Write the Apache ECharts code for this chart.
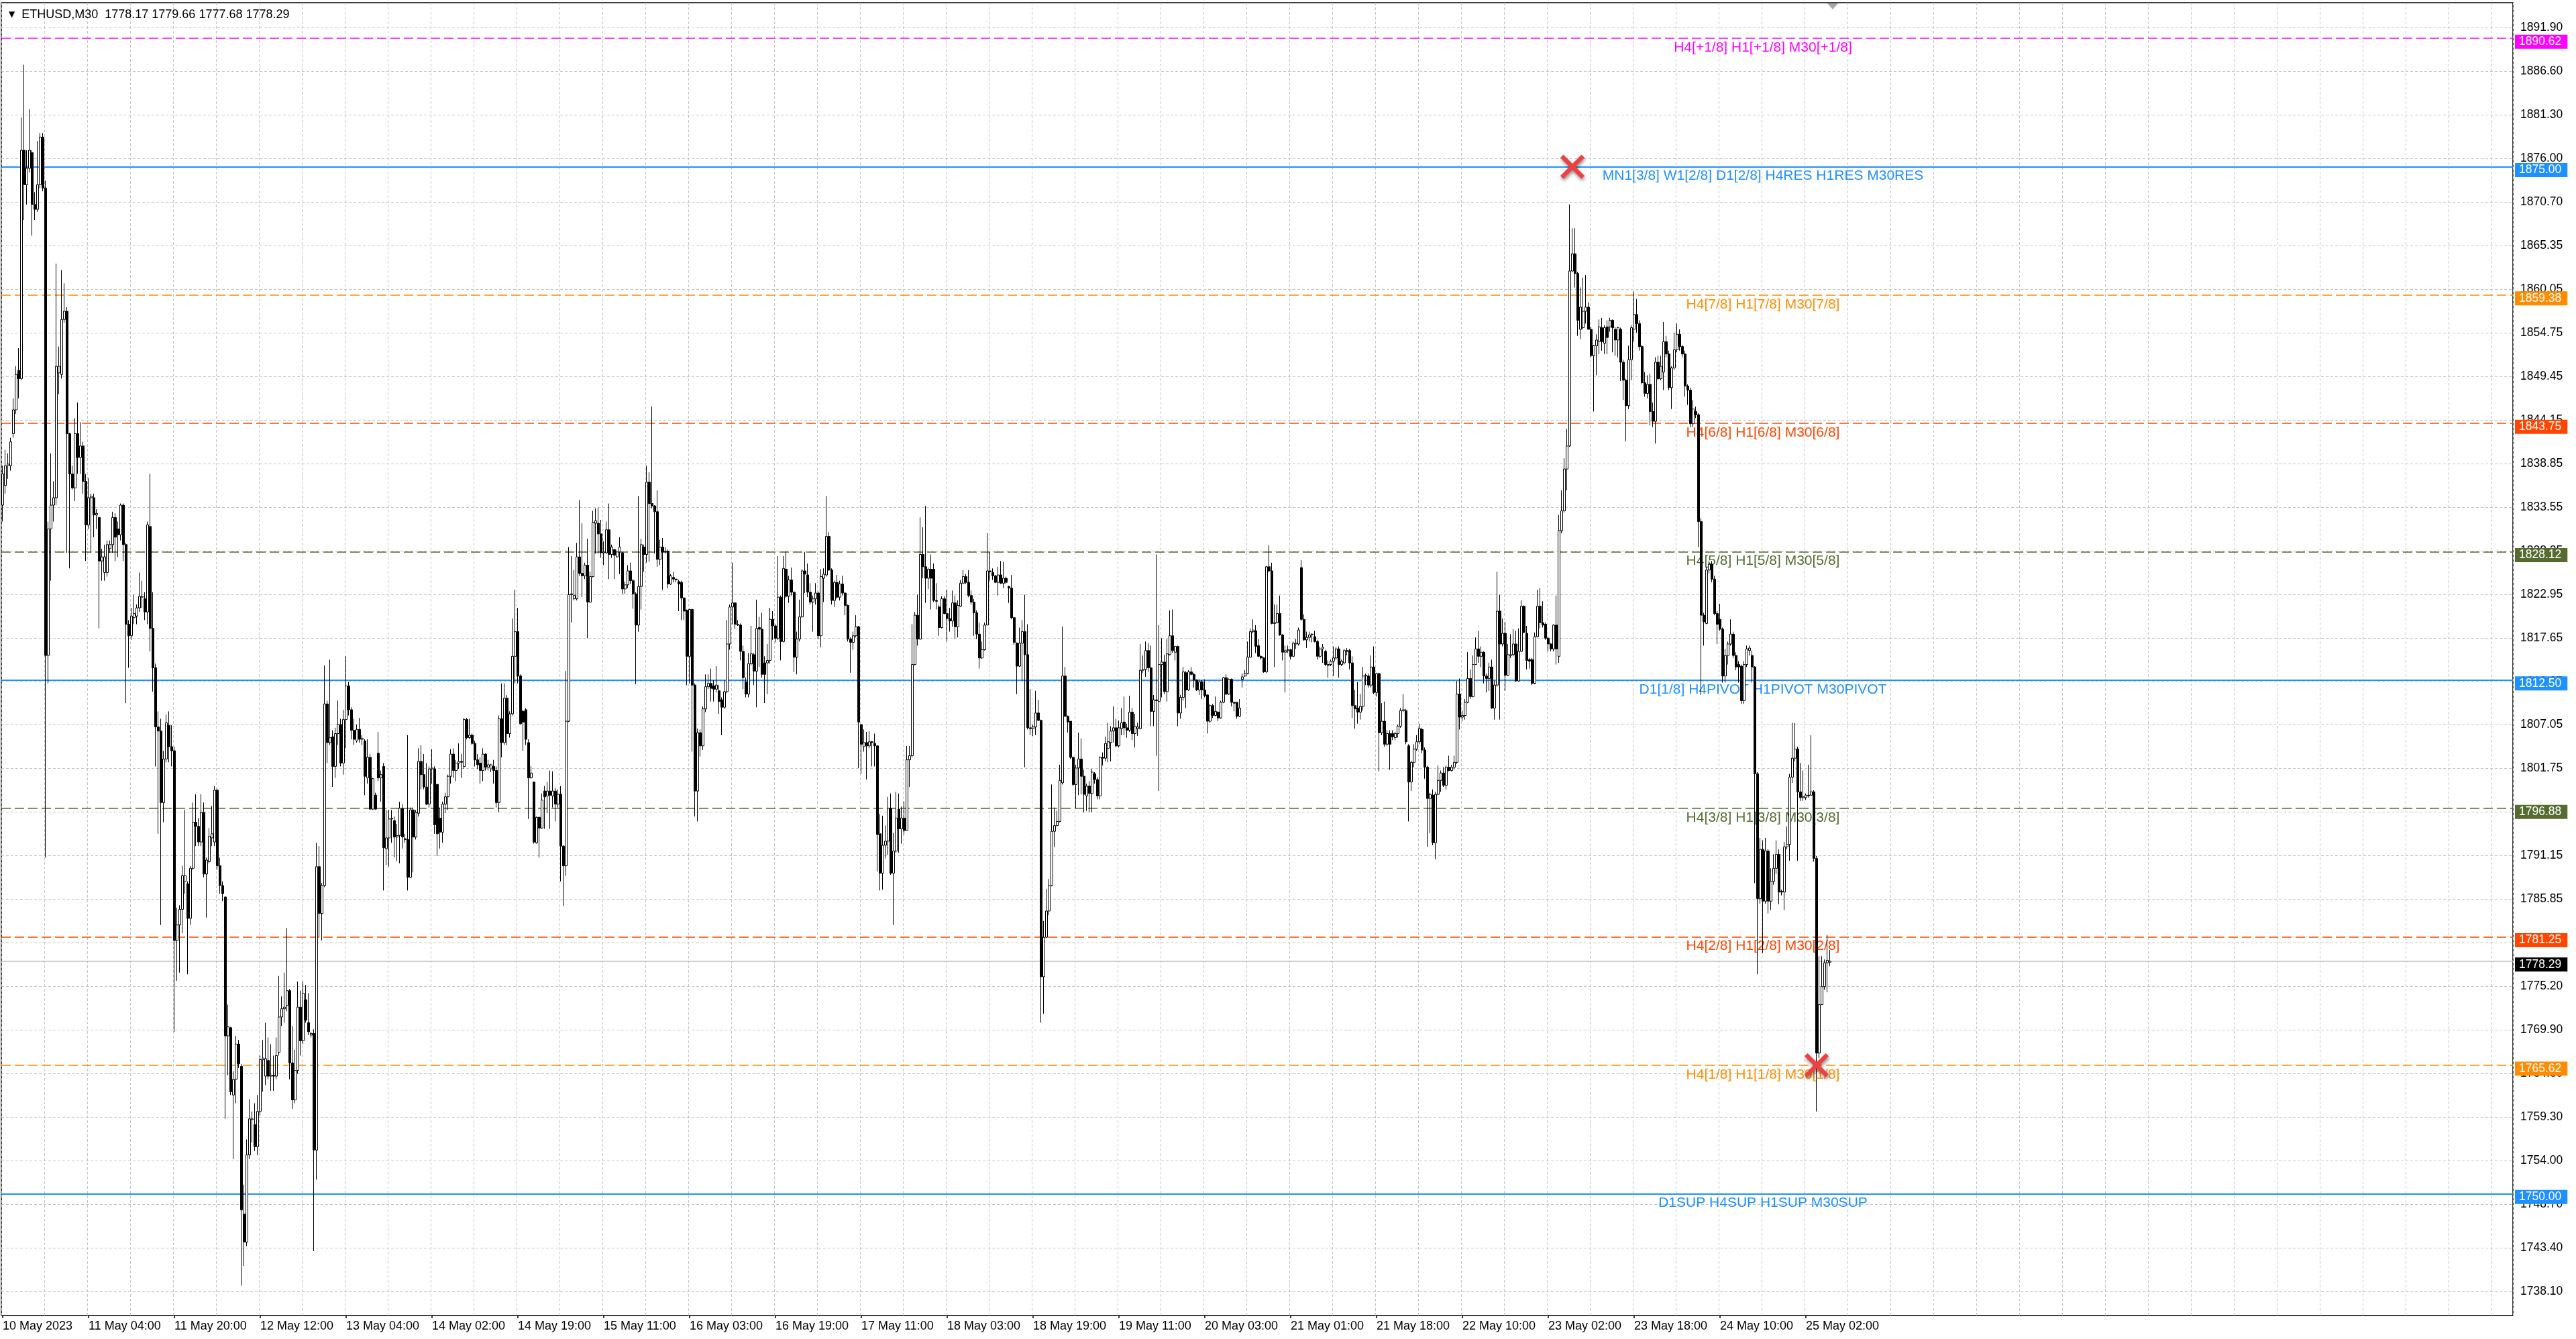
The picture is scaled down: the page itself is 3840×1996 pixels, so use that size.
<!DOCTYPE html>
<html>
<head>
<meta charset="utf-8">
<title>ETHUSD,M30</title>
<script src="https://cdn.jsdelivr.net/npm/echarts@6/dist/echarts.min.js"></script>
<style>
html,body{margin:0;padding:0;background:#fff;}
#chart{width:3840px;height:1996px;}
</style>
</head>
<body>
<div id="chart"></div>
<script>
const symbolName = 'ETHUSD,M30';

// x-axis time labels, one every 32 bars
const tickLabels = ['10 May 2023','11 May 04:00','11 May 20:00','12 May 12:00','13 May 04:00','14 May 02:00','14 May 19:00','15 May 11:00','16 May 03:00','16 May 19:00','17 May 11:00','18 May 03:00','18 May 19:00','19 May 11:00','20 May 03:00','21 May 01:00','21 May 18:00','22 May 10:00','23 May 02:00','23 May 18:00','24 May 10:00','25 May 02:00'];

// price-scale tick labels (right axis)
const yTicks = [1738.10,1743.40,1748.70,1754.00,1759.30,1764.60,1769.90,1775.20,1780.55,1785.85,1791.15,1796.45,1801.75,1807.05,1812.35,1817.65,1822.95,1828.25,1833.55,1838.85,1844.15,1849.45,1854.75,1860.05,1865.35,1870.70,1876.00,1881.30,1886.60,1891.90];

// Murrey-style level lines
const levelPrices = [1890.62,1875.00,1859.38,1843.75,1828.12,1812.50,1796.88,1781.25,1765.62,1750.00];
const levelNames = ['H4[+1/8] H1[+1/8] M30[+1/8]','MN1[3/8] W1[2/8] D1[2/8] H4RES H1RES M30RES','H4[7/8] H1[7/8] M30[7/8]','H4[6/8] H1[6/8] M30[6/8]','H4[5/8] H1[5/8] M30[5/8]','D1[1/8] H4PIVOT H1PIVOT M30PIVOT','H4[3/8] H1[3/8] M30[3/8]','H4[2/8] H1[2/8] M30[2/8]','H4[1/8] H1[1/8] M30[1/8]','D1SUP H4SUP H1SUP M30SUP'];
const levelColors = ['#FF00FF','#1E90FF','#FF8C00','#FF4500','#556B2F','#1E90FF','#556B2F','#FF4500','#FF8C00','#1E90FF'];
const levelSolid = [false,true,false,false,false,true,false,false,false,true];

// red cross markers [bar index, price]
const crossMarks = [[585,1875.0],[676,1765.62]];

// M30 candles: [open, close, low, high]
const ohlc = [
[1833.8,1837.6,1831.8,1838.6],[1836.2,1838.6,1835.2,1840.5],[1838.6,1838.8,1837.0,1840.1],[1838.6,1841.5,1838.0,1842.0],[1842.5,1845.4,1842.0,1846.8],
[1845.4,1849.7,1844.9,1850.7],[1850.2,1849.2,1846.8,1852.9],[1849.2,1877.0,1849.0,1881.0],[1877.0,1872.8,1868.5,1887.4],[1872.8,1874.8,1870.4,1877.0],
[1874.8,1877.0,1874.3,1882.0],[1876.7,1870.4,1866.6,1877.0],[1870.4,1869.8,1868.5,1871.9],[1869.8,1872.8,1869.5,1878.1],[1872.8,1878.6,1872.4,1879.1],
[1878.6,1872.4,1872.0,1879.1],[1872.4,1815.5,1790.9,1873.3],[1815.5,1830.9,1812.1,1831.8],[1830.9,1833.8,1824.6,1840.1],[1833.8,1834.7,1831.8,1836.7],
[1834.7,1850.7,1833.8,1863.2],[1849.9,1850.7,1847.3,1853.1],[1849.7,1856.4,1849.2,1862.4],[1856.4,1857.4,1856.0,1860.8],[1857.4,1842.5,1828.0,1857.9],
[1842.5,1837.6,1826.1,1842.6],[1837.6,1835.9,1835.7,1838.6],[1835.9,1842.5,1834.3,1844.4],[1842.5,1839.6,1837.6,1846.3],[1839.6,1841.0,1837.6,1843.9],
[1841.0,1836.7,1835.2,1841.5],[1836.7,1831.4,1827.0,1837.6],[1831.4,1834.7,1830.9,1837.1],[1834.7,1834.9,1828.0,1835.2],[1834.7,1832.6,1829.9,1835.2],
[1832.6,1832.8,1830.9,1833.3],[1832.3,1827.0,1818.8,1832.4],[1827.0,1827.5,1824.6,1828.5],[1825.6,1827.5,1824.6,1829.0],[1825.6,1829.0,1825.1,1829.5],
[1828.5,1829.0,1828.0,1829.5],[1829.0,1832.3,1828.0,1833.0],[1832.3,1829.9,1827.0,1832.8],[1830.9,1830.2,1827.5,1831.8],[1830.2,1833.8,1829.5,1834.0],
[1833.8,1829.0,1827.0,1834.0],[1829.0,1819.3,1809.7,1829.2],[1819.3,1817.9,1814.0,1819.8],[1817.9,1820.3,1817.4,1821.3],[1820.1,1820.6,1819.3,1822.9],
[1820.3,1821.3,1819.3,1821.7],[1821.3,1822.7,1820.8,1825.6],[1822.6,1822.7,1821.3,1824.6],[1822.4,1820.8,1819.8,1823.2],[1820.8,1831.4,1819.3,1831.8],
[1831.2,1818.8,1816.0,1837.6],[1818.8,1814.0,1811.1,1823.2],[1814.0,1806.8,1802.0,1814.5],[1806.8,1806.3,1793.8,1808.7],[1806.3,1797.6,1782.7,1807.8],
[1797.6,1802.9,1795.2,1803.9],[1802.9,1807.3,1802.5,1808.3],[1807.0,1804.4,1802.5,1808.7],[1804.4,1803.9,1802.0,1807.0],[1803.9,1780.8,1769.7,1804.4],
[1780.8,1782.7,1775.9,1784.8],[1782.7,1784.6,1776.9,1785.1],[1784.6,1788.7,1781.7,1789.9],[1788.0,1788.7,1786.5,1796.7],[1787.7,1783.5,1776.7,1788.0],
[1783.5,1789.6,1782.7,1789.9],[1789.6,1795.2,1789.4,1797.6],[1795.2,1794.7,1792.3,1798.6],[1794.7,1792.8,1792.3,1795.7],[1792.8,1796.4,1792.3,1798.6],
[1796.4,1788.9,1788.5,1797.6],[1788.9,1790.6,1783.6,1790.9],[1790.4,1793.5,1790.2,1794.5],[1793.3,1793.8,1792.3,1797.2],[1792.8,1799.1,1792.3,1799.6],
[1799.1,1789.9,1789.4,1799.3],[1789.9,1787.5,1786.5,1790.9],[1787.5,1786.5,1785.6,1788.0],[1786.1,1769.2,1759.1,1786.2],[1769.2,1770.3,1764.4,1773.0],
[1770.2,1762.4,1762.0,1770.3],[1762.0,1763.9,1754.2,1764.9],[1763.9,1768.2,1761.0,1769.2],[1768.2,1765.8,1765.3,1768.7],[1765.5,1748.0,1738.8,1765.8],
[1747.5,1744.1,1741.2,1751.1],[1744.1,1754.7,1743.6,1756.6],[1754.7,1759.1,1754.2,1761.5],[1759.0,1759.1,1756.2,1760.0],[1758.4,1755.7,1755.2,1761.0],
[1755.7,1760.0,1754.7,1762.0],[1760.0,1766.3,1759.5,1766.8],[1766.3,1766.5,1762.4,1768.7],
[1764.3,1766.4,1763.2,1770.8],[1766.2,1764.3,1763.9,1769.0],[1764.3,1764.4,1762.5,1768.2],[1764.4,1764.3,1762.5,1766.8],[1764.3,1766.8,1763.9,1769.0],
[1767.2,1771.5,1766.8,1776.5],[1771.5,1772.5,1770.4,1774.0],[1772.5,1772.7,1770.8,1776.9],[1772.9,1774.7,1772.2,1782.3],[1774.7,1765.9,1763.9,1774.9],
[1765.9,1761.4,1760.3,1770.4],[1761.4,1765.0,1761.0,1767.5],[1765.0,1772.7,1764.6,1775.8],[1772.7,1768.6,1766.8,1774.7],[1768.6,1774.4,1768.2,1775.8],
[1773.6,1771.1,1770.8,1775.4],[1770.8,1769.7,1769.3,1774.4],[1769.3,1769.5,1769.0,1769.7],[1769.5,1755.3,1743.0,1770.0],[1755.3,1789.8,1751.7,1792.7],
[1789.8,1784.1,1781.2,1792.3],[1784.1,1787.5,1780.8,1787.8],[1787.5,1809.6,1787.3,1814.3],[1809.6,1804.9,1802.4,1810.0],[1804.9,1805.5,1804.6,1815.0],
[1805.6,1802.0,1799.5,1806.4],[1802.0,1806.0,1800.6,1806.7],[1806.0,1807.1,1804.6,1810.0],[1807.1,1802.4,1802.0,1807.8],[1802.4,1807.7,1801.0,1808.9],
[1807.7,1811.8,1804.2,1815.4],[1811.8,1808.9,1808.2,1812.3],[1808.9,1806.4,1805.3,1809.2],[1806.4,1805.3,1804.6,1807.8],[1805.1,1806.5,1804.9,1807.1],
[1806.5,1805.3,1804.9,1807.9],[1805.3,1805.4,1804.6,1805.8],[1805.1,1800.8,1798.5,1805.3],[1800.6,1803.1,1799.9,1805.3],[1803.1,1796.8,1796.7,1803.5],
[1796.8,1800.5,1796.7,1800.6],[1798.5,1796.8,1796.7,1798.8],[1803.6,1800.6,1800.2,1806.2],[1800.6,1801.0,1797.7,1801.5],[1802.0,1792.1,1786.9,1802.4],
[1792.0,1793.3,1790.0,1796.7],[1793.3,1795.6,1789.8,1796.7],[1795.6,1795.7,1792.7,1796.7],[1795.4,1793.4,1790.9,1795.9],[1793.4,1793.6,1790.5,1795.0],
[1793.6,1796.9,1790.2,1797.7],[1796.9,1793.4,1792.0,1797.4],[1793.2,1793.1,1792.7,1793.8],[1793.1,1788.5,1786.9,1805.8],[1788.5,1796.7,1788.4,1797.0],
[1796.7,1793.4,1789.1,1797.0],[1793.4,1796.4,1793.1,1796.7],[1796.3,1802.6,1795.9,1804.2],[1802.6,1801.0,1799.2,1804.6],[1801.0,1799.5,1799.2,1803.5],
[1799.5,1797.4,1797.3,1802.4],[1797.4,1801.7,1797.0,1802.0],[1801.7,1801.8,1799.9,1804.1],[1801.7,1794.9,1793.8,1802.0],[1799.8,1793.8,1791.1,1799.9],
[1795.7,1794.0,1792.0,1797.0],[1794.0,1797.4,1792.7,1797.7],[1797.4,1798.3,1796.3,1798.8],[1798.3,1800.8,1796.7,1801.0],[1800.8,1803.5,1799.9,1804.1],
[1803.5,1801.5,1800.6,1804.2],[1801.5,1802.4,1800.2,1802.8],[1802.4,1802.6,1801.7,1804.8],[1802.6,1802.5,1800.6,1803.5],[1802.0,1807.7,1801.7,1807.9],
[1807.7,1805.5,1805.3,1807.9],[1805.5,1805.8,1805.3,1807.8],[1805.8,1804.8,1804.6,1806.0],[1804.8,1802.8,1802.0,1805.1],[1802.8,1802.2,1801.7,1803.5],
[1802.4,1801.5,1799.9,1803.1],[1801.5,1803.5,1800.2,1804.2],[1803.5,1801.9,1801.5,1803.6],[1801.9,1802.2,1801.5,1802.8],[1801.7,1802.2,1801.3,1802.3],
[1802.0,1801.5,1799.9,1802.8],[1801.5,1797.6,1797.0,1802.0],[1797.6,1807.8,1796.4,1808.2],[1807.8,1804.9,1803.1,1812.1],[1804.9,1810.3,1804.6,1812.1],
[1810.3,1806.0,1804.6,1810.7],[1806.0,1808.4,1805.5,1808.7],[1808.4,1815.4,1808.2,1820.0],[1815.4,1818.4,1812.1,1823.5],[1818.4,1813.0,1812.1,1821.3],
[1813.0,1807.2,1807.1,1813.2],[1808.7,1807.4,1803.9,1808.9],[1808.9,1805.3,1804.6,1809.1],[1804.9,1800.6,1795.6,1805.3],
[1800.6,1801.2,1800.5,1802.0],[1800.1,1792.8,1792.6,1800.1],[1792.7,1795.8,1792.6,1795.9],[1795.8,1794.5,1790.9,1795.9],[1794.5,1797.9,1794.4,1798.7],
[1799.0,1798.3,1794.4,1799.6],[1798.4,1799.0,1796.3,1800.1],[1799.0,1798.5,1794.4,1801.5],[1798.4,1799.0,1797.0,1801.4],[1799.0,1797.4,1795.3,1799.4],
[1797.4,1798.6,1797.0,1799.2],[1798.6,1792.3,1788.0,1799.6],[1792.3,1789.9,1785.0,1792.4],[1789.9,1807.5,1788.7,1813.6],[1807.5,1822.9,1807.4,1828.7],
[1822.9,1823.0,1819.5,1827.6],[1822.4,1822.8,1822.2,1825.9],[1822.4,1827.5,1822.2,1829.2],[1827.5,1825.5,1825.2,1834.4],[1825.5,1825.2,1822.6,1831.6],
[1825.2,1826.5,1824.8,1826.8],[1826.5,1822.0,1817.6,1829.7],[1822.0,1825.1,1821.9,1825.7],[1825.1,1831.7,1825.0,1833.1],[1831.6,1831.9,1827.9,1833.4],
[1831.6,1830.3,1827.9,1833.5],[1830.3,1828.0,1827.4,1832.0],[1828.0,1828.1,1826.5,1829.4],[1828.0,1830.8,1827.9,1831.8],[1830.8,1827.8,1824.8,1834.0],
[1827.8,1828.7,1827.4,1829.0],[1828.4,1827.7,1824.8,1828.5],[1827.5,1828.1,1827.4,1828.3],[1828.1,1828.7,1825.4,1829.9],[1828.0,1823.6,1823.0,1828.1],
[1823.6,1824.1,1823.0,1824.5],[1824.1,1825.8,1823.7,1826.5],[1825.8,1824.6,1824.2,1826.8],[1824.6,1823.0,1821.2,1824.8],[1823.0,1819.2,1812.0,1823.2],
[1819.2,1823.9,1818.4,1834.9],[1823.9,1829.0,1821.1,1829.7],[1828.7,1827.8,1825.7,1829.0],[1827.8,1836.6,1826.8,1838.6],[1836.6,1834.0,1826.9,1837.8],
[1834.0,1833.7,1833.4,1845.8],[1833.7,1833.0,1827.9,1833.8],[1833.0,1827.2,1826.3,1835.6],[1827.2,1828.7,1826.5,1829.6],[1828.7,1828.1,1823.5,1829.8],
[1828.1,1828.2,1827.9,1828.7],[1828.2,1824.2,1823.7,1828.4],[1824.2,1825.2,1824.1,1825.4],[1825.0,1824.8,1824.4,1825.7],[1824.8,1824.7,1824.4,1824.8],
[1824.5,1824.2,1820.9,1824.7],[1824.4,1822.5,1819.8,1824.6],[1822.5,1820.9,1819.8,1822.6],[1821.0,1815.4,1811.9,1821.1],[1815.4,1821.1,1812.1,1821.2],
[1821.1,1811.9,1803.8,1821.2],[1811.9,1799.0,1795.9,1812.1],[1799.0,1806.1,1795.3,1806.6],[1806.1,1804.5,1803.2,1806.5],[1804.5,1809.0,1804.0,1809.3],
[1809.0,1811.7,1808.6,1813.2],[1811.7,1812.1,1811.4,1813.2],[1812.1,1811.5,1809.9,1813.9],[1811.8,1811.4,1809.9,1812.5],[1811.4,1811.9,1811.0,1814.2],
[1811.2,1809.9,1808.4,1811.9],[1810.1,1809.2,1805.8,1810.4],[1809.2,1811.1,1809.0,1812.5],[1811.1,1816.9,1810.9,1819.8],[1816.9,1821.4,1816.2,1821.7],
[1821.4,1821.9,1819.3,1826.8],[1821.9,1819.3,1818.7,1822.0],[1819.2,1819.3,1819.1,1819.8],[1819.2,1816.0,1814.9,1819.4],[1816.0,1812.8,1811.4,1816.7],
[1812.3,1810.8,1810.4,1812.8],[1810.8,1814.5,1810.4,1815.8],[1814.5,1815.7,1814.3,1819.1],[1815.6,1813.6,1811.9,1815.8],[1813.6,1818.8,1809.2,1822.3],
[1818.9,1818.7,1814.1,1820.2],[1818.7,1813.2,1812.8,1820.7],[1814.6,1813.2,1809.7,1815.4],[1814.6,1814.9,1810.8,1816.9],[1814.9,1819.9,1814.5,1821.3],
[1819.9,1819.1,1817.4,1820.9],[1819.1,1817.6,1817.1,1819.3],[1817.6,1822.6,1817.4,1827.6],[1822.6,1817.2,1814.9,1822.8],[1817.2,1826.1,1817.1,1827.6],
[1826.0,1822.7,1822.5,1828.2],[1822.7,1824.7,1821.9,1825.2],
[1824.7,1823.2,1822.8,1826.2],[1823.2,1815.3,1813.5,1823.3],[1815.3,1817.5,1813.2,1818.4],[1817.5,1820.2,1817.2,1822.3],[1820.2,1825.8,1820.1,1826.0],
[1825.8,1825.4,1823.1,1828.1],[1825.3,1823.2,1822.6,1826.7],[1823.2,1822.0,1821.7,1824.3],[1822.0,1822.4,1818.4,1822.8],[1822.4,1823.1,1821.7,1824.3],
[1823.1,1817.9,1817.5,1823.3],[1817.9,1825.1,1816.5,1826.0],[1824.9,1825.4,1822.0,1826.1],[1825.3,1830.0,1825.1,1834.9],[1830.0,1825.9,1825.8,1830.5],
[1825.9,1822.2,1821.7,1826.1],[1822.2,1824.4,1821.4,1824.6],[1824.4,1822.6,1822.4,1825.3],[1822.6,1824.2,1822.2,1824.6],[1824.2,1823.1,1822.8,1825.2],
[1823.1,1821.6,1820.4,1823.2],[1821.6,1817.5,1817.2,1821.7],[1817.5,1817.1,1813.4,1817.7],[1817.1,1817.9,1816.2,1818.4],[1817.9,1819.0,1817.7,1820.4],
[1819.0,1807.4,1801.8,1819.1],[1807.1,1804.7,1801.1,1807.1],[1804.4,1804.9,1803.8,1806.5],[1804.9,1804.5,1800.4,1806.2],[1804.5,1805.0,1804.2,1806.3],
[1805.0,1804.9,1802.0,1805.1],[1804.8,1804.5,1802.0,1806.0],[1804.5,1793.7,1789.2,1804.5],[1793.8,1789.0,1786.9,1796.2],[1789.0,1792.4,1787.0,1796.0],
[1792.4,1792.9,1790.8,1794.8],[1792.9,1796.9,1791.2,1798.3],[1796.9,1789.0,1788.8,1798.7],[1789.0,1791.7,1782.7,1793.9],[1791.7,1795.7,1791.5,1798.9],
[1796.8,1794.4,1791.5,1798.7],[1794.4,1795.7,1792.6,1797.1],[1795.7,1794.2,1793.7,1797.7],[1794.2,1802.8,1794.2,1804.5],[1802.8,1803.3,1799.5,1804.5],
[1803.3,1814.4,1803.1,1819.3],[1814.4,1820.4,1814.3,1820.8],[1820.4,1817.5,1816.7,1822.9],[1817.5,1827.8,1817.4,1832.3],[1827.8,1826.3,1824.9,1831.1],
[1826.3,1824.9,1821.9,1833.7],[1824.9,1826.0,1823.6,1826.2],[1826.0,1824.9,1821.1,1827.8],[1826.0,1822.2,1822.0,1826.7],[1822.2,1822.1,1821.1,1824.3],
[1821.4,1818.9,1817.9,1821.6],[1818.9,1822.4,1818.8,1822.7],[1822.4,1820.6,1820.5,1822.7],[1820.6,1820.0,1817.2,1823.5],[1820.0,1819.7,1818.4,1821.3],
[1819.7,1821.9,1819.0,1823.4],[1821.9,1819.0,1817.5,1822.8],[1819.0,1821.6,1817.7,1822.2],[1821.5,1824.3,1821.4,1824.7],[1824.3,1825.1,1824.2,1825.9],
[1825.1,1824.4,1824.2,1825.4],[1824.4,1822.8,1822.6,1825.9],[1822.8,1822.0,1821.7,1823.4],[1822.0,1820.7,1817.9,1822.4],[1820.7,1818.1,1817.5,1821.0],
[1818.1,1815.2,1813.9,1819.5],[1815.2,1816.2,1815.1,1817.2],[1816.2,1819.2,1816.1,1819.5],[1819.2,1825.8,1819.2,1830.4],[1825.8,1825.7,1824.6,1828.1],
[1825.6,1825.2,1824.7,1826.1],[1825.2,1824.4,1824.3,1825.3],[1824.4,1825.3,1822.8,1826.3],[1825.3,1824.3,1824.2,1827.0],[1824.3,1824.9,1823.7,1826.9],
[1824.9,1824.4,1824.2,1825.1],[1823.9,1823.7,1821.9,1824.0],[1823.7,1820.1,1819.9,1825.3],[1820.1,1817.1,1816.8,1820.2],[1817.0,1814.2,1810.8,1817.1],
[1814.2,1817.0,1814.1,1818.9],[1817.0,1818.4,1812.4,1819.8],[1818.4,1815.6,1801.9,1822.9],[1815.6,1806.7,1806.5,1819.3],[1806.7,1806.6,1805.8,1811.4],
[1806.6,1806.8,1805.7,1807.1],[1806.8,1808.5,1805.8,1811.2],[1808.5,1807.6,1807.5,1810.1],[1807.6,1776.4,1770.8,1807.7],[1776.4,1781.2,1771.9,1783.2],
[1781.2,1784.4,1781.1,1787.1],
[1784.4,1787.5,1783.9,1788.3],[1787.5,1794.1,1787.4,1799.8],[1794.1,1794.8,1792.2,1797.0],[1794.8,1795.3,1794.7,1796.6],[1795.3,1800.3,1795.2,1802.2],
[1800.0,1813.0,1799.8,1819.0],[1813.0,1808.1,1808.0,1814.1],[1808.1,1807.4,1806.1,1808.2],[1807.5,1803.1,1802.9,1807.5],[1803.1,1799.8,1799.6,1803.2],
[1799.8,1801.8,1796.9,1802.2],[1801.8,1802.9,1798.5,1806.1],[1802.9,1800.8,1798.6,1805.4],[1800.8,1798.6,1796.4,1801.6],[1798.4,1799.6,1796.6,1799.9],
[1799.6,1798.7,1796.4,1800.2],[1798.7,1801.3,1796.4,1801.7],[1801.1,1800.4,1799.9,1801.3],[1800.4,1798.4,1798.0,1800.7],[1798.4,1803.1,1798.0,1803.2],
[1803.1,1803.0,1802.1,1803.7],[1803.0,1804.8,1802.6,1805.6],[1804.2,1805.0,1802.5,1807.3],[1804.9,1806.3,1802.6,1806.9],[1806.3,1806.7,1804.9,1809.3],
[1806.7,1804.5,1804.3,1807.8],[1804.5,1806.7,1804.3,1807.6],[1806.6,1807.3,1805.8,1809.1],[1807.4,1806.7,1805.8,1810.5],[1806.7,1806.4,1805.5,1807.2],
[1806.4,1808.6,1806.2,1810.6],[1808.6,1806.0,1805.2,1809.1],[1806.0,1806.9,1804.3,1808.4],[1806.6,1806.8,1805.7,1807.3],[1806.6,1813.7,1806.5,1816.9],
[1813.7,1813.8,1813.4,1815.5],[1813.8,1816.1,1812.9,1817.2],[1816.1,1814.0,1813.5,1817.0],[1814.0,1808.7,1806.9,1816.7],[1808.7,1810.1,1806.9,1810.7],
[1810.1,1810.0,1803.3,1827.8],[1809.9,1814.4,1799.0,1819.2],[1814.4,1814.7,1810.4,1817.6],[1814.7,1811.1,1810.8,1815.6],[1811.1,1815.7,1809.9,1817.5],
[1815.6,1817.9,1815.5,1821.0],[1817.9,1816.1,1815.8,1821.1],[1815.9,1816.6,1814.9,1816.7],[1816.6,1808.5,1806.9,1816.7],[1808.5,1810.4,1807.8,1810.7],
[1810.4,1813.5,1810.0,1814.1],[1813.4,1811.3,1809.1,1813.6],[1811.3,1813.5,1811.2,1813.7],[1813.5,1813.2,1813.1,1814.1],[1813.2,1812.5,1811.6,1813.4],
[1812.5,1811.3,1811.2,1812.6],[1811.3,1812.3,1810.7,1812.6],[1812.3,1811.3,1810.2,1812.5],[1811.3,1810.6,1810.4,1812.6],[1810.7,1807.5,1806.0,1810.8],
[1807.5,1809.4,1807.3,1809.6],[1809.4,1808.2,1807.9,1809.6],[1808.2,1808.7,1808.1,1810.5],[1808.6,1807.9,1807.5,1808.7],[1807.9,1809.8,1807.8,1810.0],
[1809.8,1812.8,1809.7,1812.9],[1812.8,1810.8,1810.7,1813.2],[1810.8,1812.6,1810.7,1812.7],[1812.6,1809.8,1809.3,1812.7],[1809.8,1809.7,1808.7,1809.9],
[1809.8,1808.1,1807.8,1809.8],[1808.1,1809.1,1808.0,1810.2],[1812.6,1812.9,1811.6,1813.3],[1813.0,1813.3,1812.9,1813.7],[1813.3,1815.3,1813.2,1817.2],
[1815.3,1818.4,1815.2,1818.8],[1818.4,1818.6,1818.2,1819.9],[1818.5,1816.6,1815.8,1819.2],[1816.7,1815.4,1815.3,1817.5],[1815.4,1815.2,1815.0,1815.5],
[1815.2,1813.5,1813.4,1815.3],[1813.5,1826.3,1813.4,1826.4],[1826.3,1825.8,1825.6,1828.9],[1825.8,1819.4,1819.3,1826.8],[1819.4,1819.5,1814.1,1821.7],
[1819.5,1820.6,1819.4,1821.7],[1820.6,1818.0,1817.9,1822.8],[1818.0,1815.9,1814.9,1818.1],[1815.9,1816.1,1811.0,1816.7],[1816.1,1816.2,1815.8,1816.7],
[1816.2,1815.4,1815.0,1816.3],[1815.4,1817.0,1815.3,1817.2],[1816.9,1817.0,1816.3,1817.5],[1816.9,1818.6,1816.7,1818.9],[1826.2,1819.9,1819.7,1827.1],
[1819.9,1817.4,1817.3,1820.5],[1817.4,1817.7,1816.4,1818.4],[1817.7,1818.0,1817.2,1818.4],[1818.0,1818.1,1817.1,1818.2],
[1817.8,1817.2,1817.1,1818.5],[1817.2,1815.4,1815.0,1817.4],[1815.4,1816.3,1815.2,1816.6],[1816.3,1816.5,1814.6,1816.9],[1816.0,1814.4,1814.2,1816.2],
[1814.4,1814.3,1812.8,1814.9],[1814.4,1814.8,1814.2,1815.0],[1814.8,1815.2,1813.0,1816.6],[1815.2,1816.3,1815.0,1816.5],[1816.3,1814.4,1812.8,1816.6],
[1814.4,1814.8,1814.2,1815.0],[1814.6,1816.1,1814.4,1816.3],[1816.1,1816.0,1815.5,1816.4],[1816.1,1814.6,1813.8,1816.3],[1814.6,1809.4,1807.9,1815.4],
[1809.4,1809.0,1806.6,1811.3],[1809.1,1808.6,1807.2,1812.3],[1808.6,1809.3,1807.7,1810.8],[1809.3,1813.0,1808.8,1814.1],[1813.0,1813.1,1811.9,1813.3],
[1813.0,1811.9,1811.6,1813.3],[1811.9,1814.1,1811.6,1815.5],[1814.1,1811.0,1810.8,1816.6],[1811.0,1813.3,1810.5,1813.4],[1813.3,1806.1,1801.4,1813.4],
[1806.1,1807.5,1805.8,1809.7],[1807.5,1804.7,1804.4,1809.9],[1804.7,1806.0,1804.5,1806.4],[1806.0,1804.7,1801.6,1806.4],[1806.0,1805.6,1805.2,1806.4],
[1805.5,1806.0,1805.2,1806.2],[1806.0,1806.9,1805.5,1807.1],[1806.9,1808.8,1806.7,1809.1],[1808.8,1808.9,1808.6,1810.8],[1808.8,1805.0,1804.7,1809.0],
[1804.5,1800.1,1795.3,1804.7],[1800.1,1802.5,1799.0,1802.7],[1802.5,1804.1,1801.9,1804.7],[1804.1,1805.0,1803.9,1805.8],[1805.0,1806.6,1804.7,1807.2],
[1806.5,1804.0,1803.6,1806.7],[1804.0,1801.9,1800.5,1804.3],[1801.9,1798.1,1792.2,1802.1],[1798.1,1798.6,1793.9,1798.8],[1798.5,1792.7,1792.4,1799.2],
[1792.7,1798.6,1790.7,1798.9],[1798.6,1800.3,1798.5,1802.1],[1800.3,1801.2,1798.9,1801.5],[1801.2,1799.7,1799.5,1801.9],[1799.7,1801.9,1799.2,1802.1],
[1801.9,1801.5,1801.4,1803.3],[1801.5,1801.9,1801.4,1802.2],[1801.9,1802.5,1801.6,1803.3],[1802.5,1810.8,1802.3,1812.4],[1810.8,1808.0,1806.5,1812.7],
[1808.0,1808.2,1807.5,1808.8],[1808.2,1809.8,1807.7,1810.2],[1809.8,1812.7,1809.7,1815.9],[1812.7,1810.5,1810.2,1813.8],[1810.5,1814.4,1810.4,1815.5],
[1814.4,1816.3,1814.4,1817.7],[1816.3,1815.4,1814.6,1818.5],[1815.4,1815.9,1814.1,1816.6],[1815.9,1813.0,1812.1,1816.0],[1813.0,1812.7,1811.0,1813.3],
[1812.7,1814.1,1811.2,1814.6],[1814.1,1809.1,1809.0,1815.0],[1809.1,1811.9,1807.7,1812.4],[1811.9,1820.9,1811.7,1825.7],[1820.9,1816.9,1807.7,1822.9],
[1816.9,1818.2,1816.6,1820.0],[1818.2,1813.1,1811.2,1819.6],[1813.1,1815.6,1813.0,1816.9],[1815.5,1815.6,1815.2,1818.1],[1815.6,1816.9,1815.4,1818.7],
[1816.9,1812.4,1812.3,1818.5],[1812.4,1816.0,1812.3,1818.8],[1816.0,1821.5,1815.9,1822.2],[1821.5,1818.3,1818.2,1821.6],[1818.2,1814.9,1813.8,1819.1],
[1815.0,1814.8,1813.9,1815.2],[1815.0,1812.1,1811.9,1815.2],[1812.1,1817.8,1812.0,1818.3],[1817.8,1821.5,1817.7,1823.5],[1821.5,1819.5,1818.8,1823.7],
[1819.5,1819.2,1818.9,1822.1],[1819.3,1817.6,1817.4,1819.5],[1817.6,1816.9,1816.0,1817.8],[1816.9,1816.3,1816.0,1817.0],[1816.3,1819.2,1816.0,1819.3],
[1819.2,1816.3,1814.4,1822.8],[1815.4,1830.7,1814.6,1832.6],[1830.7,1833.1,1830.4,1835.6],[1833.1,1838.2,1832.9,1839.5],[1838.2,1841.0,1835.6,1843.1],
[1841.0,1862.3,1840.9,1870.4],[1862.3,1864.4,1862.2,1867.5],
[1864.4,1862.0,1860.3,1867.5],[1862.0,1856.3,1854.4,1862.2],[1855.2,1857.9,1854.0,1860.3],[1855.4,1857.4,1855.2,1861.5],[1857.4,1857.9,1855.9,1861.8],
[1857.9,1855.2,1855.2,1858.5],[1855.2,1852.0,1851.8,1855.5],[1852.0,1853.2,1845.2,1853.3],[1853.2,1853.9,1849.6,1854.6],[1853.7,1855.5,1852.2,1856.4],
[1855.4,1853.7,1852.6,1856.6],[1853.5,1855.4,1852.2,1855.7],[1855.5,1854.2,1852.2,1856.3],[1855.5,1856.3,1854.9,1856.6],[1856.3,1855.4,1852.4,1856.4],
[1855.2,1853.9,1852.0,1855.5],[1853.9,1855.4,1851.8,1855.5],[1855.2,1851.2,1848.9,1855.4],[1851.2,1849.0,1846.6,1851.5],[1849.0,1845.9,1841.6,1849.2],
[1845.9,1851.5,1845.5,1853.2],[1851.5,1855.4,1849.0,1855.7],[1855.2,1857.0,1853.7,1859.8],[1857.0,1855.9,1854.8,1858.9],[1855.9,1853.1,1852.6,1856.3],
[1853.1,1848.7,1848.5,1853.3],[1848.7,1847.4,1847.0,1850.0],[1847.4,1848.5,1846.8,1849.6],[1848.5,1845.2,1843.5,1849.8],[1845.2,1844.0,1843.3,1846.3],
[1844.0,1851.2,1841.3,1851.8],[1851.2,1849.2,1849.0,1852.0],[1849.2,1850.7,1849.0,1852.0],[1850.0,1853.7,1847.8,1856.1],[1853.7,1852.2,1851.8,1854.4],
[1852.2,1848.1,1847.8,1852.6],[1848.1,1850.5,1845.5,1850.7],[1850.5,1852.7,1850.3,1854.8],[1852.7,1854.6,1852.4,1855.9],[1854.6,1853.1,1852.6,1855.2],
[1853.1,1852.2,1851.8,1853.3],[1852.2,1848.3,1847.0,1852.6],[1848.3,1847.8,1846.0,1848.5],[1847.8,1843.7,1843.3,1848.1],[1843.7,1845.5,1843.3,1846.6],
[1845.2,1844.8,1844.4,1845.8],[1844.8,1831.8,1828.7,1845.0],[1831.8,1820.4,1810.7,1832.2],[1820.4,1819.6,1816.7,1820.7],[1819.4,1825.9,1819.3,1826.3],
[1825.9,1826.6,1825.5,1827.0],[1826.6,1824.8,1824.4,1827.0],[1824.8,1820.6,1820.4,1825.2],[1820.6,1819.3,1816.9,1820.9],[1819.9,1818.7,1818.5,1821.8],
[1818.7,1813.0,1812.2,1818.9],[1813.0,1815.5,1812.2,1816.3],[1815.5,1816.9,1814.4,1817.2],[1816.9,1818.1,1816.7,1819.9],[1818.1,1815.5,1815.2,1818.4],
[1815.5,1814.1,1813.7,1815.9],[1814.4,1814.1,1812.2,1814.8],[1814.2,1810.0,1809.6,1814.4],[1810.0,1814.4,1809.6,1814.8],[1814.4,1816.3,1814.1,1816.7],
[1816.1,1816.4,1815.5,1816.7],[1815.5,1814.1,1812.2,1816.1],[1814.1,1801.1,1787.8,1814.2],[1801.1,1785.9,1776.7,1801.3],[1785.9,1791.9,1785.3,1793.3],
[1791.9,1785.6,1779.3,1793.0],[1785.6,1791.7,1785.3,1793.3],[1791.7,1785.6,1784.1,1791.9],[1785.6,1788.0,1784.5,1789.6],[1788.0,1789.6,1787.6,1791.3],
[1789.6,1791.3,1788.9,1793.0],[1791.3,1786.7,1785.2,1791.9],[1786.8,1786.7,1786.3,1787.0],[1786.7,1792.2,1784.5,1792.8],[1792.2,1792.5,1791.9,1794.7],
[1792.5,1800.7,1790.5,1801.1],[1800.7,1803.0,1800.0,1807.3],[1803.0,1804.1,1802.6,1807.3],[1804.1,1798.9,1790.5,1804.4],[1798.9,1798.2,1797.8,1802.4],
[1798.2,1798.3,1797.8,1801.5],[1798.2,1798.5,1797.9,1798.7],[1798.5,1798.4,1798.2,1802.2],[1798.5,1798.9,1798.4,1805.8],[1798.9,1790.8,1790.4,1799.1],
[1790.8,1767.1,1760.0,1791.1],[1767.1,1773.0,1766.5,1778.9],[1773.0,1775.2,1773.0,1778.9],[1775.2,1778.1,1774.8,1778.5],[1778.1,1778.4,1774.5,1781.5],
[1778.17,1778.29,1777.68,1779.66]
];

const FONT = 'Liberation Sans, Arial, sans-serif';
const slotCount = 936;          // visible bar slots across the chart width
const labelBar = 656;           // bar where level captions are centred

const candles = ohlc.map(([o, c, l, h]) => [o, c, Math.min(l, o, c), Math.max(h, o, c)]);
const xCats = [];
for (let i = 0; i < slotCount; i++) {
  xCats.push(i % 32 === 0 && tickLabels[i / 32] ? tickLabels[i / 32] : '');
}
const showTick = (i) => i % 32 === 0 && !!tickLabels[i / 32];
const last = ohlc[ohlc.length - 1];
const headerText = symbolName + '  ' + [last[0], last[3], last[2], last[1]].map(v => v.toFixed(2)).join(' ');

const tag = (color) => ({
  show: true, position: 'end', distance: 3, offset: [0, 5],
  backgroundColor: color, color: '#fff',
  fontFamily: FONT, fontSize: 17.5, padding: [2, 9, 1, 6]
});

const markLines = levelPrices.map((p, i) => ({
  yAxis: p,
  lineStyle: { color: levelColors[i], width: levelSolid[i] ? 2 : 1.5, type: levelSolid[i] ? 'solid' : [14, 6] },
  label: Object.assign(tag(levelColors[i]), { formatter: p.toFixed(2) })
}));
markLines.push({
  yAxis: last[1],
  lineStyle: { color: '#C0C0C0', width: 1.5, type: 'solid' },
  label: Object.assign(tag('#000000'), { formatter: last[1].toFixed(2) })
});

const chart = echarts.init(document.getElementById('chart'), null, { renderer: 'canvas' });
const gridLine = { color: '#C4C4C4', width: 1, type: [4, 3] };

chart.setOption({
  animation: false,
  backgroundColor: '#ffffff',
  title: {
    text: '{t|▼}  ' + headerText,
    left: 8, top: 8,
    textStyle: { fontFamily: FONT, fontSize: 18, fontWeight: 'normal', color: '#000',
      rich: { t: { fontFamily: 'DejaVu Sans', fontSize: 12, color: '#000' } } }
  },
  grid: { left: 2, right: 94, top: 4, bottom: 35, show: true, borderColor: '#000', borderWidth: 1.5, backgroundColor: 'rgba(0,0,0,0)' },
  xAxis: {
    type: 'category', data: xCats, boundaryGap: true,
    axisLine: { show: false },
    axisTick: { show: true, interval: showTick, alignWithLabel: true, length: 4, lineStyle: { color: '#000', width: 1.5 } },
    axisLabel: { interval: showTick, align: 'left', margin: 7, color: '#000', fontFamily: FONT, fontSize: 18 },
    splitLine: { show: true, interval: 15, lineStyle: gridLine }
  },
  yAxis: {
    type: 'value', position: 'right', min: 1735.16, max: 1894.96,
    axisLine: { show: false },
    axisTick: { show: false, customValues: yTicks },
    axisLabel: { customValues: yTicks, formatter: v => v.toFixed(2), margin: 11, color: '#000', fontFamily: FONT, fontSize: 17.5 },
    splitLine: { show: true, lineStyle: gridLine }
  },
  series: [
    {
      name: 'levels', type: 'line', data: [], z: 1, silent: true,
      markLine: { silent: true, symbol: 'none', z: 1, animation: false, data: markLines }
    },
    {
      name: 'levelCaptions', type: 'scatter', z: 1, silent: true,
      symbol: 'circle', symbolSize: 1,
      itemStyle: { color: 'rgba(0,0,0,0)' },
      label: { show: true, opacity: 1 },
      data: levelPrices.map((p, i) => ({
        value: [labelBar, p],
        label: { show: true, opacity: 1, position: 'bottom', distance: 3, formatter: levelNames[i], color: levelColors[i], fontFamily: FONT, fontSize: 21 }
      }))
    },
    {
      name: symbolName, type: 'candlestick', data: candles, z: 3,
      barWidth: 3, large: false,
      itemStyle: { color: '#ffffff', color0: '#000000', borderColor: '#000000', borderColor0: '#000000', borderWidth: 1 }
    },
    {
      name: 'marks', type: 'scatter', z: 4, silent: true,
      data: crossMarks,
      symbol: 'path://M3,0 L12,9 L21,0 L24,3 L15,12 L24,21 L21,24 L12,15 L3,24 L0,21 L9,12 L0,3 Z',
      symbolSize: 36,
      itemStyle: { color: '#EE4040', opacity: 1, shadowBlur: 5, shadowColor: 'rgba(0,0,0,0.45)', shadowOffsetX: 1, shadowOffsetY: 3 }
    }
  ]
});

// chart-shift marker at the top edge, just after the last bar
const sx = chart.convertToPixel({ xAxisIndex: 0 }, ohlc.length);
chart.setOption({
  graphic: [{ type: 'polygon', shape: { points: [[sx - 8, 5], [sx + 8, 5], [sx, 14]] }, style: { fill: '#A8A8A8' }, z: 10 }]
});
</script>
</body>
</html>
